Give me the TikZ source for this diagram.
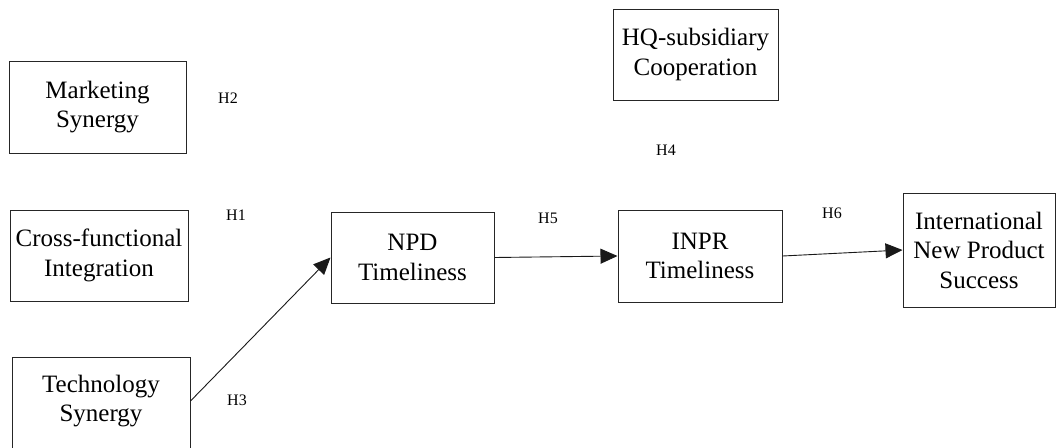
\documentclass[tikz,border=0pt]{standalone}
\usepackage{fontspec}
\setmainfont{Liberation Serif}
\usetikzlibrary{arrows.meta}
\begin{document}
\begin{tikzpicture}[x=1pt,y=-1pt,
  boxnode/.style={draw=black!85, line width=1pt, align=center, inner sep=0pt,
    font=\fontsize{25}{29.5}\selectfont},
  hlabel/.style={font=\fontsize{16}{18}\selectfont, inner sep=0pt},
  link/.style={draw=black!90, line width=0.9pt, -{Triangle[length=17pt,width=15pt]}}]
\useasboundingbox (0,0) rectangle (1057,447);
\clip (0,0) rectangle (1057,447);
\node[boxnode, minimum width=177pt, minimum height=92pt] (mkt) at (97.5,107) {Marketing\\Synergy};
\node[boxnode, minimum width=178pt, minimum height=91pt] (cfi) at (99,255.5) {Cross-functional\\Integration};
\node[boxnode, minimum width=178pt, minimum height=96pt] (tech) at (101,405) {};
\node[font=\fontsize{25}{29.5}\selectfont, align=center] (techtxt) at (101,401) {Technology\\Synergy};
\node[boxnode, minimum width=163pt, minimum height=91pt] (npd) at (412.5,257.5) {NPD\\Timeliness};
\node[boxnode, minimum width=164pt, minimum height=92pt] (inpr) at (700,256) {INPR\\Timeliness};
\node[boxnode, minimum width=165pt, minimum height=91pt] (hq) at (695.5,54.5) {HQ-subsidiary\\Cooperation};
\node[boxnode, minimum width=152pt, minimum height=114pt] (intl) at (979,250) {International\\New Product\\Success};
\node[hlabel] (h2) at (228,98) {H2};
\node[hlabel] (h1) at (236,215) {H1};
\node[hlabel] (h3) at (237,400) {H3};
\node[hlabel] (h4) at (666,150) {H4};
\node[hlabel] (h5) at (548,218) {H5};
\node[hlabel] (h6) at (832,213) {H6};
\draw[link] (tech.east |- techtxt) -- (npd.west);
\draw[link] (npd.east) -- (inpr.west);
\draw[link] (inpr.east) -- (intl.west);
\end{tikzpicture}
\end{document}
